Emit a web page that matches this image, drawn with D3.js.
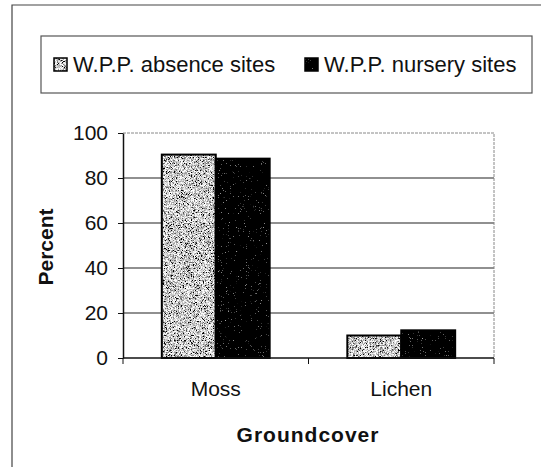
<!DOCTYPE html>
<html>
<head>
<meta charset="utf-8">
<script src="https://cdn.jsdelivr.net/npm/d3@7"></script>
<style>
  html, body { margin: 0; padding: 0; background: #fff; }
  svg { display: block; font-family: "Liberation Sans", Arial, sans-serif; }
  .axis text { font-size: 21px; fill: #111; }
  .axis path, .axis line { stroke: #111; }
</style>
</head>
<body>
<div id="chart"></div>
<script>
const categories = ["Moss", "Lichen"];
const series = ["W.P.P. absence sites", "W.P.P. nursery sites"];
const absenceValues = [90.4, 10.0];
const nurseryValues = [88.6, 12.3];
const yTicks = [0, 20, 40, 60, 80, 100];

const W = 541, H = 467;
const plot = { left: 123, right: 494, top: 133, bottom: 358 };

const rows = categories.map((c, i) => ({
  cat: c,
  vals: [
    { s: series[0], v: absenceValues[i] },
    { s: series[1], v: nurseryValues[i] },
  ],
}));

const svg = d3.select("#chart").append("svg").attr("width", W).attr("height", H);

// speckled fills like the scanned original
const defs = svg.append("defs");
function speckle(id, k, b, seed) {
  const f = defs.append("filter").attr("id", id)
    .attr("x", 0).attr("y", 0).attr("width", 1).attr("height", 1);
  f.append("feTurbulence").attr("type", "fractalNoise")
    .attr("baseFrequency", 1.4).attr("numOctaves", 2).attr("seed", seed).attr("result", "n");
  f.append("feColorMatrix").attr("in", "n").attr("type", "matrix")
    .attr("values", `${k} 0 0 0 ${b}  ${k} 0 0 0 ${b}  ${k} 0 0 0 ${b}  0 0 0 0 1`)
    .attr("result", "g");
  f.append("feComposite").attr("in", "g").attr("in2", "SourceAlpha").attr("operator", "in");
}
speckle("speck-abs", 3.0, -0.9, 4);
speckle("speck-nur", 2.2, -1.55, 9);
const fillFor = { [series[0]]: "url(#speck-abs)", [series[1]]: "url(#speck-nur)" };

// outer chart frame (only top and left fall inside the picture)
svg.append("path").attr("d", `M12,${H} V5 H${W}`)
  .attr("fill", "none").attr("stroke", "#444").attr("stroke-width", 1.2);

const x0 = d3.scaleBand().domain(categories).range([plot.left, plot.right]).padding(0);
const x1 = d3.scaleBand().domain(series).range([0, x0.bandwidth()])
  .paddingInner(0).paddingOuter(0.72);
const y = d3.scaleLinear().domain([0, 100]).range([plot.bottom, plot.top]);

const g = svg.append("g");

// gridlines
g.selectAll("line.grid").data(yTicks.filter((t) => t > 0 && t < 100)).enter()
  .append("line").attr("class", "grid")
  .attr("x1", plot.left).attr("x2", plot.right)
  .attr("y1", (d) => y(d)).attr("y2", (d) => y(d))
  .attr("stroke", "#222").attr("stroke-width", 1.2);

// plot area border (top / right), faint dotted
g.append("path")
  .attr("d", `M${plot.left},${y(100)} H${plot.right} V${plot.bottom}`)
  .attr("fill", "none").attr("stroke", "#888").attr("stroke-width", 1)
  .attr("stroke-dasharray", "3,1");

// bars
const grp = g.selectAll("g.cat").data(rows).enter().append("g")
  .attr("class", "cat").attr("transform", (d) => `translate(${x0(d.cat)},0)`);

grp.selectAll("rect.fill").data((d) => d.vals).enter().append("rect")
  .attr("class", "fill")
  .attr("x", (d) => x1(d.s)).attr("width", x1.bandwidth())
  .attr("y", (d) => y(d.v)).attr("height", (d) => y(0) - y(d.v))
  .attr("fill", "#888").attr("filter", (d) => fillFor[d.s]);

grp.selectAll("rect.edge").data((d) => d.vals).enter().append("rect")
  .attr("class", "edge")
  .attr("x", (d) => x1(d.s)).attr("width", x1.bandwidth())
  .attr("y", (d) => y(d.v)).attr("height", (d) => y(0) - y(d.v))
  .attr("fill", "none").attr("stroke", "#000").attr("stroke-width", 2);

// y axis
const yAxis = g.append("g").attr("class", "axis")
  .attr("transform", `translate(${plot.left},0)`)
  .call(d3.axisLeft(y).tickValues(yTicks).tickSize(5).tickPadding(10).tickSizeOuter(0));
yAxis.select(".domain").attr("stroke-width", 1.5);

// x axis: line, boundary ticks, category labels
const xAxis = g.append("g").attr("class", "axis");
xAxis.append("line").attr("x1", plot.left).attr("x2", plot.right)
  .attr("y1", y(0)).attr("y2", y(0)).attr("stroke-width", 1.5);
const bounds = categories.map((c) => x0(c)).concat([x0(categories[categories.length - 1]) + x0.bandwidth()]);
xAxis.selectAll("line.tick").data(bounds).enter().append("line").attr("class", "tick")
  .attr("x1", (d) => d).attr("x2", (d) => d)
  .attr("y1", y(0)).attr("y2", y(0) + 6);
xAxis.selectAll("text").data(categories).enter().append("text")
  .attr("x", (d) => x0(d) + x0.bandwidth() / 2).attr("y", y(0) + 38)
  .attr("text-anchor", "middle").text((d) => d);

// axis titles
svg.append("text").attr("x", 308).attr("y", 442).attr("text-anchor", "middle")
  .attr("font-size", 21).attr("font-weight", "bold").attr("letter-spacing", 1)
  .attr("fill", "#111").text("Groundcover");
svg.append("text").attr("transform", "translate(53,247) rotate(-90)")
  .attr("text-anchor", "middle").attr("font-size", 21).attr("font-weight", "bold")
  .attr("fill", "#111").text("Percent");

// legend
const leg = svg.append("g");
leg.append("rect").attr("x", 41).attr("y", 36).attr("width", 491).attr("height", 57)
  .attr("fill", "#fff").attr("stroke", "#555").attr("stroke-width", 1.2);
const legX = [54, 305];
const li = leg.selectAll("g.item").data(series).enter().append("g")
  .attr("class", "item").attr("transform", (d, i) => `translate(${legX[i]},58)`);
li.append("rect").attr("width", 13).attr("height", 13)
  .attr("fill", "#888").attr("filter", (d) => fillFor[d]);
li.append("rect").attr("width", 13).attr("height", 13)
  .attr("fill", "none").attr("stroke", "#000").attr("stroke-width", 1.5);
li.append("text").attr("x", 19).attr("y", 14)
  .attr("font-size", 22).attr("fill", "#111").text((d) => d);
</script>
</body>
</html>
